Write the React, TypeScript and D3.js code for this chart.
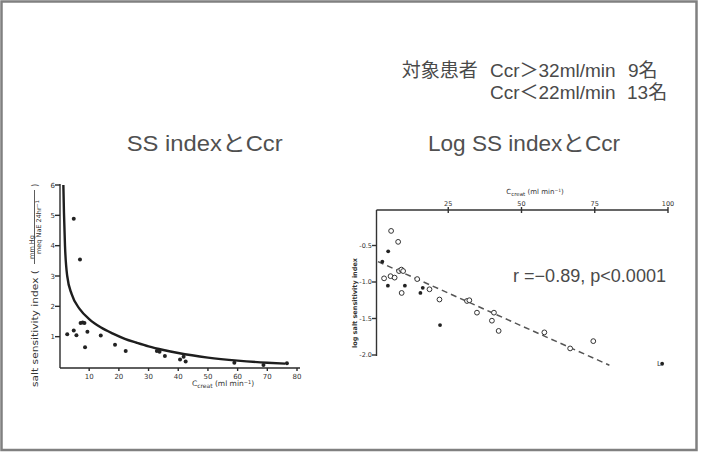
import * as d3 from "d3";

// left panel: salt sensitivity index vs Ccreat
const ssCcr = [2.6, 4.8, 6.9, 4.8, 5.7, 7.1, 7.8, 8.4, 8.6, 9.4, 13.9, 18.7, 22.3, 32.8, 33.7, 35.5, 40.6, 41.8, 42.5, 58.9, 68.7, 76.6];
const ssIndex = [1.08, 4.89, 3.54, 1.2, 1.05, 1.45, 1.47, 1.45, 0.65, 1.16, 1.04, 0.73, 0.53, 0.53, 0.5, 0.36, 0.25, 0.34, 0.18, 0.14, 0.07, 0.12];
const curveCcr = [1.3, 1.5, 1.85, 2.6, 4.1, 6.9, 10, 14, 18, 22, 26, 30, 35, 40, 50, 60, 70, 76];
const curveIndex = [6.0, 5.1, 4.0, 3.0, 2.4, 1.9, 1.58, 1.3, 1.1, 0.93, 0.8, 0.68, 0.56, 0.46, 0.31, 0.21, 0.14, 0.11];
const leftXTicks = [10, 20, 30, 40, 50, 60, 70, 80];
const leftYTicks = [1, 2, 3, 4, 5, 6];

// right panel: log salt sensitivity index vs Ccreat
const openCcr = [5.5, 7.9, 3.1, 5.3, 6.7, 8.2, 9.0, 9.6, 9.1, 14.4, 18.6, 22, 31.4, 32.2, 34.8, 39.9, 40.6, 42.2, 57.8, 66.6, 74.5];
const openLog = [-0.3, -0.45, -0.95, -0.92, -0.94, -0.85, -0.83, -0.85, -1.15, -0.96, -1.1, -1.24, -1.26, -1.25, -1.42, -1.53, -1.42, -1.67, -1.69, -1.91, -1.81];
const filledCcr = [4.5, 2.5, 4.4, 10.2, 15.5, 16.3, 22.2, 98];
const filledLog = [-0.58, -0.72, -1.05, -1.05, -1.15, -1.08, -1.59, -2.12];
const regCcr = [1, 80];
const regLog = [-0.72, -2.14];
const rightXTicks = [25, 50, 75, 100];
const rightYTicks = [-0.5, -1.0, -1.5, -2.0];

const jp = "'Liberation Sans', Arial, 'Noto Sans CJK JP', sans-serif";
const small = "'DejaVu Sans', 'Liberation Sans', sans-serif";

export default function App() {
  const xL = d3.scaleLinear().domain([0, 80]).range([59.5, 297]);
  const yL = d3.scaleLinear().domain([0, 6]).range([367, 185]);
  const xR = d3.scaleLinear().domain([0, 100]).range([375, 668]);
  const yR = d3.scaleLinear().domain([0, -2]).range([209, 355]);

  const curve = d3
    .line<number>()
    .x((d) => xL(d))
    .y((d, i) => yL(curveIndex[i]))
    .curve(d3.curveMonotoneX)(curveCcr);

  const reg = d3
    .line<number>()
    .x((d) => xR(d))
    .y((d, i) => yR(regLog[i]))(regCcr);

  return (
    <svg width={704} height={460} style={{ position: "absolute", left: 0, top: 0, background: "#fff" }}>
      <rect x={1.5} y={1.5} width={695} height={448.5} fill="#fff" stroke="#808080" strokeWidth={2.5} />

      {/* header text */}
      <g fontFamily={jp} fontSize={19} fill="#4a4a4a">
        <text x={401.7} y={77}>対象患者</text>
        <text x={490} y={77}>Ccr＞32ml/min</text>
        <text x={628} y={77}>9名</text>
        <text x={490} y={99}>Ccr＜22ml/min</text>
        <text x={627} y={99}>13名</text>
      </g>

      {/* titles */}
      <g fontFamily={jp} fontSize={22} fill="#505050">
        <text x={126.7} y={151} textLength={156} lengthAdjust="spacingAndGlyphs">SS indexとCcr</text>
        <text x={428} y={151} textLength={192} lengthAdjust="spacingAndGlyphs">Log SS indexとCcr</text>
      </g>

      {/* left panel */}
      <g stroke="#2a2a2a" strokeWidth={1.4}>
        <line x1={60} y1={184} x2={60} y2={368} />
        <line x1={60} y1={368} x2={300} y2={368} />
        {leftYTicks.map((t) => (
          <line key={t} x1={55} x2={60} y1={yL(t)} y2={yL(t)} />
        ))}
        {leftXTicks.map((t) => (
          <line key={t} x1={xL(t)} x2={xL(t)} y1={368} y2={371} />
        ))}
      </g>
      <g fontFamily={small} fontSize={7} fill="#333">
        {leftYTicks.map((t) => (
          <text key={t} x={55} y={yL(t) + 2.5} textAnchor="end">{t}</text>
        ))}
        {leftXTicks.map((t) => (
          <text key={t} x={xL(t)} y={378.5} textAnchor="middle">{t}</text>
        ))}
        <text x={223} y={386} textAnchor="middle" fontSize={7.5}>
          C<tspan fontSize={6} dy={1.5}>creat</tspan>
          <tspan dy={-1.5}> (ml min</tspan>
          <tspan fontSize={5} dy={-2.5}>−1</tspan>
          <tspan dy={2.5}>)</tspan>
        </text>
        <g transform="translate(35,387) rotate(-90)">
          <text x={0} y={3} fontSize={8} textLength={117} lengthAdjust="spacingAndGlyphs">salt sensitivity index (</text>
          <text x={140} y={-1.5} fontSize={6.5} textAnchor="middle">mm Hg</text>
          <line x1={123} x2={197} y1={-0.5} y2={-0.5} stroke="#333" strokeWidth={0.8} />
          <text x={160} y={5.8} fontSize={6.5} textAnchor="middle">meq NaE 24hr<tspan fontSize={5} dy={-2}>−1</tspan></text>
          <text x={200} y={3} fontSize={8}>)</text>
        </g>
      </g>
      <path d={curve ?? ""} fill="none" stroke="#1e1e1e" strokeWidth={2.4} />
      <g fill="#222">
        {ssCcr.map((c, i) => (
          <circle key={i} cx={xL(c)} cy={yL(ssIndex[i])} r={2} />
        ))}
      </g>

      {/* right panel */}
      <g stroke="#333" strokeWidth={1.4}>
        <line x1={376.5} y1={210} x2={668} y2={210} />
        <line x1={376.5} y1={210} x2={376.5} y2={356} />
        {rightXTicks.map((t) => (
          <line key={t} x1={xR(t)} x2={xR(t)} y1={207} y2={213} />
        ))}
        {rightYTicks.map((t) => (
          <line key={t} x1={372} x2={376.5} y1={yR(t)} y2={yR(t)} />
        ))}
      </g>
      <g fontFamily={small} fontSize={6.5} fill="#333">
        {rightXTicks.map((t) => (
          <text key={t} x={xR(t)} y={206} textAnchor="middle">{t}</text>
        ))}
        {rightYTicks.map((t) => (
          <text key={t} x={372} y={yR(t) + 2.3} textAnchor="end">{t.toFixed(1)}</text>
        ))}
        <text x={535} y={194} textAnchor="middle" fontSize={7}>
          C<tspan fontSize={5.5} dy={1.5}>creat</tspan>
          <tspan dy={-1.5}> (ml min</tspan>
          <tspan fontSize={4.5} dy={-2.5}>−1</tspan>
          <tspan dy={2.5}>)</tspan>
        </text>
        <text transform="translate(357,303) rotate(-90)" textAnchor="middle" fontSize={6.5} fontWeight="bold">
          log salt sensitivity index
        </text>
        <text x={657} y={366} fontSize={7}>L</text>
      </g>
      <path d={reg ?? ""} fill="none" stroke="#555" strokeWidth={1.5} strokeDasharray="6,4" />
      <g fill="#fff" stroke="#333" strokeWidth={1}>
        {openCcr.map((c, i) => (
          <circle key={i} cx={xR(c)} cy={yR(openLog[i])} r={2.4} />
        ))}
      </g>
      <g fill="#222">
        {filledCcr.map((c, i) => (
          <circle key={i} cx={xR(c)} cy={yR(filledLog[i])} r={1.9} />
        ))}
      </g>
      <text x={513} y={281.5} fontFamily={jp} fontSize={17.5} fill="#4a4a4a" textLength={153} lengthAdjust="spacingAndGlyphs">
        r =−0.89, p&lt;0.0001
      </text>
    </svg>
  );
}
